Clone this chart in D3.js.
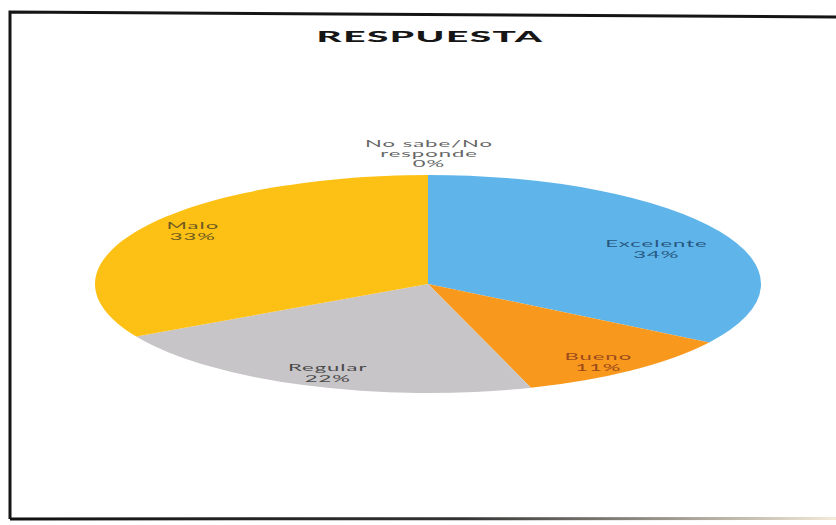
<!DOCTYPE html>
<html>
<head>
<meta charset="utf-8">
<script src="https://cdn.jsdelivr.net/npm/d3@7/dist/d3.min.js"></script>
<style>
  html, body { margin: 0; padding: 0; background: #fff; }
  svg { display: block; }
  text { font-family: Lato, "Open Sans", sans-serif; }
</style>
</head>
<body>
<svg id="chart" width="836" height="525"></svg>
<script>
// Survey answers and their shares (percent)
const categories = ["Excelente", "Bueno", "Regular", "Malo", "No sabe/No responde"];
const values = [34, 11, 22, 33, 0];
const sliceColors = ["#5fb5ea", "#f8991e", "#c7c5c7", "#fdc116", "#a9c6e8"];
const labelColors = ["#27577f", "#9c4a1c", "#4a4a4a", "#6e5a20", "#666666"];
const title = "RESPUESTA";

// Hand-tuned label offsets (px) from the default label anchor
const labelNudge = {
  "Excelente": [-8, 9],
  "Bueno": [5, 6],
  "Regular": [-1, 4],
  "Malo": [-3, -6]
};

const W = 836, H = 525;
const svg = d3.select("#chart");

svg.append("rect").attr("width", W).attr("height", H).attr("fill", "#fff");

// Frame around the chart page
const defs = svg.append("defs");
const grad = defs.append("linearGradient").attr("id", "fade")
  .attr("x1", "0%").attr("x2", "100%").attr("y1", "0%").attr("y2", "0%");
grad.append("stop").attr("offset", "0%").attr("stop-color", "#111");
grad.append("stop").attr("offset", "55%").attr("stop-color", "#333");
grad.append("stop").attr("offset", "100%").attr("stop-color", "#f3ead8");

svg.append("path")
  .attr("d", "M836,17 L10,12 L10,519")
  .attr("fill", "none").attr("stroke", "#151515").attr("stroke-width", 3);
svg.append("path")
  .attr("d", "M10,519 L836,518.5")
  .attr("fill", "none").attr("stroke", "url(#fade)").attr("stroke-width", 3);

// Text is drawn widened horizontally
function stretchedText(g, x, y, str, opts) {
  return g.append("text")
    .attr("transform", `translate(${x},${y}) scale(${opts.sx},1)`)
    .attr("text-anchor", "middle")
    .attr("font-size", opts.size)
    .attr("font-weight", opts.weight || "normal")
    .attr("letter-spacing", opts.spacing || 0)
    .attr("fill", opts.color)
    .text(str);
}

stretchedText(svg, 430, 42, title, { size: 15.5, weight: "900", color: "#161616", sx: 2.5, spacing: 0.6 });

// Elliptical pie: a circle of radius ry stretched horizontally to rx
const cx = 428, cy = 284, rx = 333, ry = 109;
const data = categories.map((c, i) => ({ cat: c, value: values[i], i }));
const pie = d3.pie().sort(null).value(d => d.value).startAngle(0).endAngle(2 * Math.PI);
const arcs = pie(data);
const arc = d3.arc().innerRadius(0).outerRadius(ry);

const pieG = svg.append("g")
  .attr("transform", `translate(${cx},${cy}) scale(${rx / ry},1)`);
pieG.selectAll("path")
  .data(arcs.filter(a => a.value > 0))
  .join("path")
  .attr("d", arc)
  .attr("fill", d => sliceColors[d.data.i]);

// Data labels
const labelG = svg.append("g");
const kx = 0.81, ky = 0.84;
const labelStyle = { size: 9, sx: 2.45, spacing: 0.4 };
arcs.forEach(a => {
  const mid = (a.startAngle + a.endAngle) / 2;
  const ux = Math.sin(mid), uy = -Math.cos(mid);
  const color = labelColors[a.data.i];
  const pct = a.data.value + "%";
  if (a.value > 0) {
    const n = labelNudge[a.data.cat] || [0, 0];
    const x = cx + ux * rx * kx + n[0];
    const y = cy + uy * ry * ky + n[1];
    stretchedText(labelG, x, y - 2, a.data.cat, { ...labelStyle, color });
    stretchedText(labelG, x, y + 9, pct, { ...labelStyle, color });
  } else {
    // empty slice: label sits just outside the rim
    const x = cx + ux * rx;
    const y = cy + uy * ry;
    const parts = a.data.cat.split("/");
    const lines = [parts[0] + "/" + parts[1].split(" ")[0], "responde", pct];
    lines.forEach((l, j) => {
      stretchedText(labelG, x + 1, y - 28 + j * 10, l, { ...labelStyle, color });
    });
  }
});
</script>
</body>
</html>
